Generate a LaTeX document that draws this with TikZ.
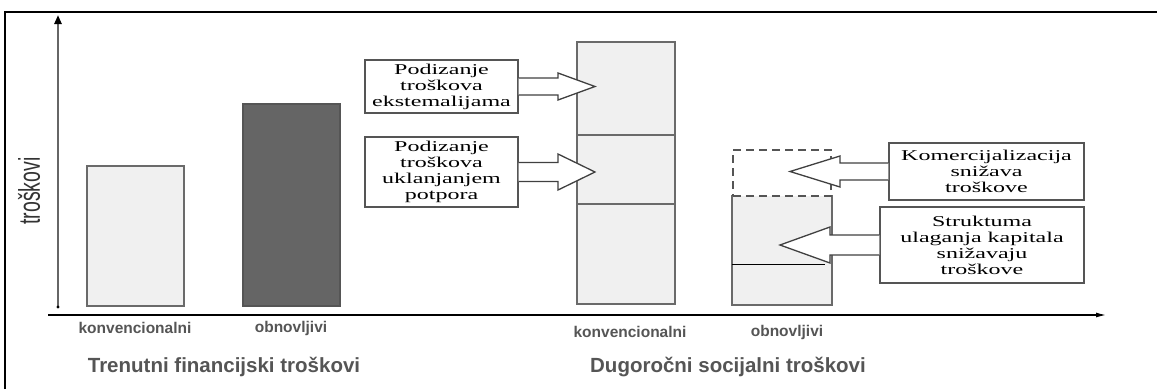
\documentclass[tikz,border=0pt]{standalone}
\usepackage{fontspec}
\setmainfont{Liberation Serif}
\newfontfamily\boxfont[FakeStretch=1.6]{Liberation Serif}
\newfontfamily\labfont{Liberation Sans}
\newfontfamily\axfont[FakeStretch=0.65]{Liberation Sans}
\usetikzlibrary{calc,arrows.meta}
\definecolor{barfill}{HTML}{F0F0F0}
\definecolor{darkfill}{HTML}{656565}
\definecolor{barline}{HTML}{6A6A6A}
\definecolor{labgrey}{HTML}{555555}
\newcommand\blkarrow[5]{%
  \draw[blockarrow] ($(#1)+(0,#4)$) -- ($(#2)+(#3,#4)$) -- ($(#2)+(#3,#5)$) -- (#2)
    -- ($(#2)+(#3,-#5)$) -- ($(#2)+(#3,-#4)$) -- ($(#1)+(0,-#4)$);}
\begin{document}
\begin{tikzpicture}[x=1pt,y=-1pt,
  textbox/.style={draw=labgrey, fill=white, line width=1.4pt, inner sep=0pt, align=center,
    font=\boxfont\fontsize{15}{16}\selectfont},
  lightbar/.style={draw=barline, fill=barfill, line width=1.8pt, inner sep=0pt, anchor=south west},
  darkbar/.style={draw=labgrey, fill=darkfill, line width=1.8pt, inner sep=0pt, anchor=south west},
  dashbox/.style={draw=labgrey, dash pattern=on 8pt off 5pt, line width=1.6pt, inner sep=0pt, anchor=south west},
  blockarrow/.style={draw=black!75, fill=white, line width=1.3pt, line join=miter},
  barlabel/.style={text=labgrey, font=\labfont\bfseries\fontsize{15.5}{16}\selectfont},
  grouplabel/.style={text=labgrey, font=\labfont\bfseries\fontsize{20.5}{22}\selectfont},
]
\useasboundingbox (0,0) rectangle (1157,389);
% frame
\draw[line width=2pt] (5,389) -- (5,12) -- (1157,12);

% axes
\coordinate (ybot) at (58,307);
\coordinate (ytop) at (58,15);
\draw[line width=2.2pt, draw=black!60, -{Triangle[length=9pt,width=7pt,color=black]}] (ybot) -- (ytop);
\fill (ybot) circle (1.6pt);
\coordinate (xl) at (48,315);
\coordinate (xr) at (1106,315);
\draw[line width=1.2pt, -{Latex[length=10pt,width=5pt]}] (xl) -- (xr);
\node[rotate=90, text=black!80, font=\axfont\fontsize{30}{30}\selectfont, inner sep=0pt] (ylab) at (29,191) {troškovi};

% current costs
\node[lightbar, minimum width=97pt, minimum height=140pt] (c1) at (86,307) {};
\node[darkbar, minimum width=97pt, minimum height=202pt] (c2) at (242,307) {};
\node[barlabel] (l1) at (135,328) {konvencionalni};
\node[barlabel] (l2) at (291,328) {obnovljivi};
\node[grouplabel] (g1) at (224,367) {Trenutni financijski troškovi};

% long-term conventional
\node[lightbar, minimum width=98pt, minimum height=262pt] (c3) at (576,305) {};
\draw[draw=barline, line width=1.8pt] (c3.west |- 0,135) -- (c3.east |- 0,135);
\draw[draw=barline, line width=1.8pt] (c3.west |- 0,204) -- (c3.east |- 0,204);

% long-term renewable
\node[lightbar, draw=none, minimum width=98pt, minimum height=108pt] (c4) at (732,305) {};
\draw[draw=barline, line width=1.8pt] (c4.north west) -- (c4.south west) -- (c4.south east) -- (c4.north east);
\node[dashbox, minimum width=98pt, minimum height=46pt] (d4) at (732,197) {};
\draw[line width=0.9pt] (c4.west |- 0,264) -- (825,264);

\node[barlabel] (l3) at (630,332) {konvencionalni};
\node[barlabel] (l4) at (787,332) {obnovljivi};
\node[grouplabel] (g2) at (728,367) {Dugoročni socijalni troškovi};

% text boxes
\node[textbox, minimum width=153pt, minimum height=53pt] (b1) at (441.5,86.5) {Podizanje\\troškova\\ekstemalijama};
\node[textbox, minimum width=153pt, minimum height=70pt] (b2) at (441.5,172) {Podizanje\\troškova\\uklanjanjem\\potpora};
\node[textbox, minimum width=195pt, minimum height=57pt] (b3) at (986.5,171.5) {Komercijalizacija\\snižava\\troškove};
\node[textbox, minimum width=204pt, minimum height=76pt] (b4) at (982,245) {Struktuma\\ulaganja kapitala\\snižavaju\\troškove};

% block arrows
\coordinate (t1) at (595,86.5);
\coordinate (t2) at (595,172);
\coordinate (t3) at (790,171.5);
\coordinate (t4) at (780,245);
\blkarrow{b1.east}{t1}{-37}{8.5}{13.5}
\blkarrow{b2.east}{t2}{-37}{9.5}{18}
\blkarrow{b3.west}{t3}{50}{8.5}{15.5}
\blkarrow{b4.west}{t4}{50}{10}{18}
\end{tikzpicture}
\end{document}
